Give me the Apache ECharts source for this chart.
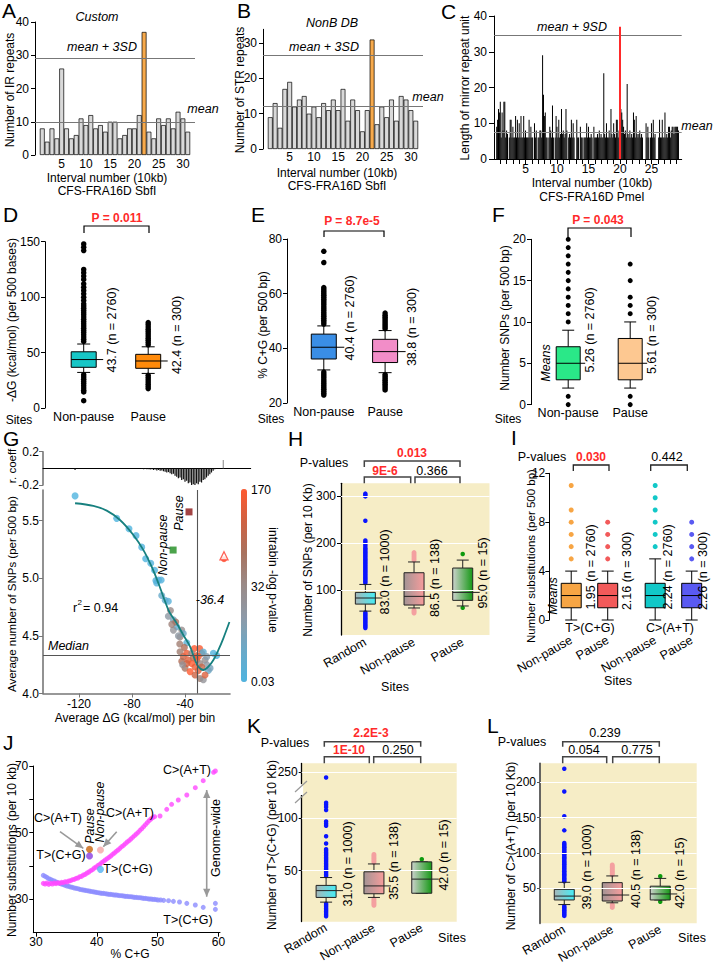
<!DOCTYPE html>
<html>
<head>
<meta charset="utf-8">
<script src="https://cdn.jsdelivr.net/npm/echarts@6/dist/echarts.min.js"></script>
<style>html,body{margin:0;padding:0;background:#fff;}#chart{width:713px;height:964px;}</style>
</head>
<body>
<div id="chart"></div>
<script>
// ===================== DATA =====================
// Panel A – IR repeats per 10 kb interval (CFS-FRA16D SbfI)
const aIR = [8,4,8,5,26,8,5,6,11,9,12,8,9,7,10,10,5,6,8,8,12,37,7,5,11,9,11,8,13,11,7];
const aHighlight = 22;
const aMean = 9.8, aMean3SD = 29;
// Panel B – STR repeats
const bSTR = [9,13,6,17,19,12,14,15,10,12,9,13,11,14,11,17,8,14,11,5,11,31,7,12,9,14,8,15,14,11,8];
const bHighlight = 22;
const bMean = 12.2, bMean3SD = 26.5;
// Panel C – mirror repeat unit lengths (7 bins per 10 kb interval)
const cBinsPerUnit = 7;
const cMirrorLen = [
 0,0,9,11,14,13,16,  6,13,8,16,16,6,8,  7,0,6,11,11,6,9,  6,6,12,6,11,6,10,
 6,12,6,6,12,6,8,    6,6,6,11,6,9,6,    6,0,10,6,8,0,6,   6,8,8,6,29,18,12,
 13,6,6,0,6,9,8,     6,15,6,0,6,12,9,   6,11,6,7,14,7,8,  6,7,14,8,0,6,7,
 6,11,6,10,6,0,0,    11,6,6,0,9,6,6,    0,6,6,6,10,6,9,   6,6,7,6,0,9,6,
 6,6,7,6,8,6,7,      6,6,24,7,6,10,6,   6,8,6,14,7,6,10,  7,6,11,11,6,8,14,
 14,13,11,9,7,8,6,   21,7,6,8,6,7,6,    13,11,6,12,7,6,7, 8,6,7,6,0,0,0,
 10,6,9,6,0,6,10,    6,11,6,7,0,0,0,    6,11,6,6,11,6,6,  13,6,7,6,9,9,6,
 8,9,9,7,9,9,9,      9,8];
const cHighlightPos = 19.9, cHighlightLen = 37;
const cMean = 7.5, cMean9SD = 34.7;
const cTicks = [1,2,3,4,5,6,7,8,9,10,11,12,13,14,15,16,17,18,19,20,21,22,23,24,25,26,27,28,29];
// D, E, F – site categories and box stats [min, Q1, median, Q3, max]
const siteCats = ['Non-pause', 'Pause'];
const dNonPauseBox = [32.1, 36.7, 43.7, 50.7, 57.7];
const dPauseBox = [31.2, 35.8, 42.4, 48.4, 55.2];
const dNonPauseOut = [60,62,64,66,68,70,72,74,76,78,80,82,84,86,88,90,92,94,97,100,103,106,109,112,116,119,122,125,142,145,148,30,28,26,24,22,20,18,16,14.5,6.6];
const dPauseOut = [57,59,61,63,65,67,69,71,73,75,77,29.5,27.5,25.5,23.5,21.5,19.5,17.5];
const eNonPauseBox = [32.1, 36.1, 40.4, 45.2, 48.2];
const ePauseBox = [31.1, 34.8, 38.8, 43.3, 46.5];
const eNonPauseOut = [48.9,49.6,50.3,51,51.7,52.4,53.1,53.8,54.5,55.2,55.9,56.6,57.3,58,58.7,59.4,60.1,60.8,61.5,62.2,71.4,75.5,31.3,30.6,29.9,29.2,28.5,27.8,27.1,26.4,25.7,25,24.3,23.6,22.9];
const ePauseOut = [47.2,47.9,48.6,49.3,50,50.7,51.4,52.1,52.9,30.4,29.7,29,28.3,27.6,26.9,26.2,25.5,24.8];
const fNonPauseBox = [2, 3, 5, 7, 9];
const fPauseBox = [2, 3, 5, 8, 10];
const fNonPauseOut = [10,11,12,13,14,15,16,17,18,19,20,1,0];
const fPauseOut = [11,12,13,15,17,1,0];
// G – r.coeff bars, binned scatter, fit, markers
const gRcoeffX = [-123,-72.5,-71.25,-70,-68.75,-67.5,-66.25,-65,-63.75,-62.5,-61.25,-60,-58.75,-57.5,-56.25,-55,-53.75,-52.5,-51.25,-50,-48.75,-47.5,-46.25,-45,-43.75,-42.5,-41.25,-40,-38.75,-37.5,-36.25,-35,-33.75,-32.5,-31.25,-30,-28.75,-27.5,-26.25,-25,-23.75,-22.5,-21.25,-20,-18.75,-17.5,-11.1];
const gRcoeffV = [-0.02,-0.005,-0.01,-0.008,-0.012,-0.01,-0.015,-0.012,-0.02,-0.015,-0.025,-0.02,-0.03,-0.025,-0.035,-0.04,-0.05,-0.045,-0.06,-0.07,-0.065,-0.09,-0.1,-0.12,-0.11,-0.14,-0.13,-0.16,-0.15,-0.18,-0.17,-0.21,-0.19,-0.2,-0.18,-0.19,-0.16,-0.17,-0.14,-0.13,-0.11,-0.09,-0.07,-0.05,-0.03,-0.01,0.1];
const gDG = [-123,-91.6,-82.3,-77,-72.7,-69.7,-65.9,-63,-62,-60,-58,-61.4,-57.6,-55,-52.6,
 -52.6,-48.8,-46.3,-42.5,-48.8,-43.8,-41.3,-38.7,
 -51,-50,-47,-45,-44,-40.5,-29,-33,
 -43.8,-41.3,-42.5,-38.7,-37.5,-35,-33.7,-31.2,-32.5,-30,-28.7,-27.4,-26.2,-24.9,-23.6,-22.4,-21.1,-18.6,-16.1,-40,-36.2,-32.5,-28.7,-26.2,-24.9,-35,-31.2,-27.4,-30,-23.6,-38.7,-41.8];
const gSNP = [5.715,5.52,5.43,5.37,5.27,5.17,5.13,5.07,4.98,4.985,4.985,4.96,4.85,4.81,4.8,
 4.67,4.64,4.58,4.55,4.55,4.49,4.52,4.44,
 4.72,4.6,4.62,4.5,4.43,4.4,4.39,4.39,
 4.363,4.32,4.28,4.35,4.29,4.26,4.31,4.29,4.23,4.2,4.26,4.35,4.36,4.29,4.25,4.2,4.22,4.35,4.33,4.22,4.19,4.16,4.13,4.12,4.16,4.35,4.33,4.23,4.32,4.32,4.26,4.25];
const gLogP = [1,1,1,2,2,1,3,2,5,8,4,6,25,20,10,
 60,40,15,80,70,90,30,10,
 85,95,110,60,100,120,165,170,
 100,140,120,160,150,170,130,165,160,150,90,120,20,80,60,30,40,5,3,110,170,140,100,70,150,90,155,135,160,50,145,75];
const gFitX = [-123,-109.2,-99.1,-89.1,-79,-71.5,-65.2,-60.1,-56.4,-52.6,-51.3,-46.3,-41.3,-36.2,-32.5,-30,-26.2,-22.4,-18.6,-14.8,-11.1,-6.5];
const gFitY = [5.651,5.628,5.587,5.506,5.376,5.246,5.10,4.957,4.84,4.725,4.696,4.609,4.508,4.406,4.291,4.233,4.204,4.233,4.291,4.378,4.479,4.62];
const gMedian = 4.326, gThresholdDG = -31;
const gNonPauseMean = [-49, 5.245], gPauseMean = [-37, 5.576];
const gOutTriangle = [-10.6, 5.195], gOutDot = [-10.6, 5.165];
// H – SNPs per 10 kb
const hCats = ['Random', 'Non-pause', 'Pause'];
const hRandomBox = [55, 70, 83, 95, 112];
const hNonPauseBox = [61.7, 68, 86.5, 137, 160];
const hPauseBox = [66, 78, 95, 147, 164];
const hRandomOut = [115,118,121,124,127,130,133,136,139,142,145,148,151,154,157,160,163,166,169,172,175,178,181,184,187,190,194,198,202,206,248,300,303,306,52,49,46,43,40,37,34,31,28,25,22,19];
const hNonPauseOut = [164,168,172,176,180,57,54,51];
const hPauseOut = [177,62];
// I – substitutions per 500 bp
const iCats = ['Non-pause', 'Pause', 'Non-pause', 'Pause'];
const iPos = [1, 2, 3.3, 4.3];
const iTCGNonPauseBox = [0,1,2,3,4], iTCGPauseBox = [0,1,2,3,4];
const iCATNonPauseBox = [0,1,2,3,5], iCATPauseBox = [0,1,2,3,4];
const iTCGNonPauseOut = [5,6,7,8,9,11], iTCGPauseOut = [5,6,7,8];
const iCATNonPauseOut = [6,7,8,9,10,11], iCATPauseOut = [5,6,7,8];
// J – substitutions vs %C+G
const jCATx = [31.2,31.5,31.8,32.1,32.4,32.7,33.0,33.3,33.6,33.9,34.2,34.5,34.8,35.1,35.4,35.7,36.0,36.3,36.6,36.9,37.2,37.5,37.8,38.1,38.4,38.7,39.0,39.3,39.6,39.9,40.2,40.5,40.8,41.1,41.4,41.7,42.0,42.3,42.6,42.9,43.2,43.5,43.8,44.1,44.4,44.7,45.0,45.3,45.6,45.9,46.2,46.5,46.8,47.1,47.4,47.7,48.0,48.3,48.6,48.9,49.2,49.5,50.4,51.5,52.3,53.4,54.8,56.2,57.5,59.2,59.5];
const jCATy = [34.8,34.6,34.9,34.5,34.8,34.6,34.9,34.7,35.0,34.8,35.1,35.0,35.3,35.2,35.5,35.6,35.9,36.0,36.3,36.4,36.8,36.9,37.3,37.5,37.9,38.2,38.6,38.9,39.4,39.7,40.2,40.5,41.0,41.4,41.8,42.2,42.6,43.0,43.5,43.9,44.4,44.8,45.3,45.8,46.2,46.7,47.2,47.6,48.1,48.6,49.1,49.6,50.1,50.7,51.2,51.8,52.4,53.0,53.6,54.1,54.5,54.8,55.0,57.0,58.5,59.8,61.3,63.5,65.6,68.1,68.5];
const jTCGx = [31.2,31.5,31.8,32.1,32.4,32.7,33.0,33.3,33.6,33.9,34.2,34.5,34.8,35.1,35.4,35.7,36.0,36.3,36.6,36.9,37.2,37.5,37.8,38.1,38.4,38.7,39.0,39.3,39.6,39.9,40.2,40.5,40.8,41.1,41.4,41.7,42.0,42.3,42.6,42.9,43.2,43.5,43.8,44.1,44.4,44.7,45.0,45.3,45.6,45.9,46.2,46.5,46.8,47.1,47.4,47.7,48.0,48.3,48.6,48.9,49.2,49.5,49.8,50.1,50.5,51.0,51.8,52.6,53.6,54.8,56.2,57.5,59.5,59.5];
const jTCGy = [37.2,36.9,36.6,36.2,36.0,35.7,35.5,35.2,35.0,34.8,34.6,34.4,34.2,34.0,33.9,33.7,33.6,33.4,33.3,33.2,33.0,32.9,32.8,32.7,32.6,32.5,32.4,32.3,32.2,32.1,32.0,31.9,31.8,31.8,31.7,31.6,31.5,31.5,31.4,31.3,31.3,31.2,31.1,31.1,31.0,30.9,30.9,30.8,30.8,30.7,30.6,30.6,30.5,30.5,30.4,30.3,30.3,30.2,30.1,30.1,30.0,30.0,29.9,29.8,29.8,29.7,29.6,29.4,29.2,28.8,28.3,27.6,28.8,27.0];
const jPauseCAT = [38.8, 45.0], jPauseTCG = [38.8, 43.0];
const jNonPauseCAT = [40.6, 44.8], jNonPauseTCG = [40.6, 39.0];
// K – T>(C+G) per 10 kb
const kRandomBox = [20, 24.5, 31, 36, 43.5];
const kNonPauseBox = [24.5, 28, 35.5, 49, 56.5];
const kPauseBox = [28.5, 28.5, 42, 58.5, 58.5];
const kRandomOut = [45,46.5,48,49.5,51,52.5,54,55.5,57,58.5,60,61.5,63,64.5,66,67.5,69,70.5,76,83,93,95,97,108,111,113,115,245,18.5,17,15.5,14,12.5,11,9.5,8,6.5];
const kNonPauseOut = [58,59.5,61,62.5,64,65.5,23,21.5,20,18.5,17];
const kPauseOut = [61];
// L – C>(A+T) per 10 kb
const lRandomBox = [27, 33.5, 39, 48.5, 58.5];
const lNonPauseBox = [29.5, 32, 40.5, 58, 67.5];
const lPauseBox = [33.5, 33.5, 42, 53, 64];
const lRandomOut = [60,62,64,66,68,70,72,74,76,78,80,82,84,86,88,90,92,94,96,98,100,102,104,106,108,110,112,114,132,152,187,219,25,23,21,19,17,15,13,11];
const lNonPauseOut = [69,71,73,75,77,79,81,83,27,25,23];
const lPauseOut = [67,31];

// ===================== BUILD =====================
const FONT = '"Liberation Sans", Arial, Helvetica, sans-serif';
const BEIGE = '#f6edc6';
const chart = echarts.init(document.getElementById('chart'), null, {renderer: 'svg'});
const option = {animation: false, backgroundColor: '#fff', textStyle: {fontFamily: FONT},
  grid: [], xAxis: [], yAxis: [], series: [], graphic: [], visualMap: []};

function isPlain(v) { return v && typeof v === 'object' && !Array.isArray(v) && Object.getPrototypeOf(v) === Object.prototype; }
function merge(a, b) {
  const o = Object.assign({}, a);
  for (const k in b) { o[k] = (isPlain(b[k]) && isPlain(a[k])) ? merge(a[k], b[k]) : b[k]; }
  return o;
}
const AX = {
  type: 'value',
  axisLine: {show: true, onZero: false, lineStyle: {color: '#000', width: 1}},
  axisTick: {show: true, length: 4, inside: false, lineStyle: {color: '#000', width: 1}},
  axisLabel: {show: true, color: '#000', fontSize: 12, fontFamily: FONT, margin: 5},
  splitLine: {show: false}, splitArea: {show: false}
};
function addGrid(l, t, w, h, xo, yo, gx) {
  const gi = option.grid.length;
  option.grid.push(Object.assign({left: l, top: t, width: w, height: h, containLabel: false, outerBoundsMode: 'none'}, gx || {}));
  option.xAxis.push(merge(merge(AX, {gridIndex: gi}), xo || {}));
  option.yAxis.push(merge(merge(AX, {gridIndex: gi}), yo || {}));
  return gi;
}
function hLines(vals, color, width) {
  return {silent: true, symbol: 'none', label: {show: false}, lineStyle: {color: color || '#777', type: 'solid', width: width || 1.2},
    data: vals.map(v => ({yAxis: v}))};
}
function boxSeries(gi, items, fills, o) {
  option.series.push({
    type: 'custom', xAxisIndex: gi, yAxisIndex: gi, silent: true, z: 4,
    data: items,
    renderItem(params, api) {
      const x = api.value(0);
      const p = k => api.coord([x, api.value(k)]);
      const lo = p(1), q1 = p(2), md = p(3), q3 = p(4), hi = p(5);
      const cx = lo[0], hw = o.w / 2, cw = (o.cap || o.w * 0.6) / 2;
      const st = {stroke: o.stroke || '#000', lineWidth: o.lw || 1};
      return {type: 'group', children: [
        {type: 'line', shape: {x1: cx, y1: lo[1], x2: cx, y2: q1[1]}, style: st},
        {type: 'line', shape: {x1: cx, y1: q3[1], x2: cx, y2: hi[1]}, style: st},
        {type: 'line', shape: {x1: cx - cw, y1: lo[1], x2: cx + cw, y2: lo[1]}, style: st},
        {type: 'line', shape: {x1: cx - cw, y1: hi[1], x2: cx + cw, y2: hi[1]}, style: st},
        {type: 'rect', shape: {x: cx - hw, y: q3[1], width: o.w, height: q1[1] - q3[1]},
          style: {fill: fills[params.dataIndex], stroke: st.stroke, lineWidth: st.lineWidth}},
        {type: 'line', shape: {x1: cx - hw, y1: md[1], x2: cx + hw + (o.ext || 0), y2: md[1]}, style: st}
      ]};
    }
  });
}
function dots(gi, x, vals, color, size, z) {
  option.series.push({type: 'scatter', xAxisIndex: gi, yAxisIndex: gi, silent: true, z: z || 3,
    symbolSize: size, itemStyle: {color: color, opacity: 1}, data: vals.map(v => [x, v])});
}
function grad(c0, c1) { return new echarts.graphic.LinearGradient(0, 0, 1, 0, [{offset: 0, color: c0}, {offset: 1, color: c1}]); }

const G = option.graphic;
function T(x, y, text, o) {
  o = o || {};
  G.push({type: 'text', x: x, y: y, rotation: (o.rot || 0) * Math.PI / 180, silent: true, z: 10,
    style: {text: text, fill: o.color || '#000', fontSize: o.size || 12.5, fontFamily: FONT,
      fontStyle: o.italic ? 'italic' : 'normal', fontWeight: o.bold ? 'bold' : 'normal',
      align: o.align || 'center', textAlign: o.align || 'center', verticalAlign: 'middle', textVerticalAlign: 'middle'}});
}
function L(x1, y1, x2, y2, color, lw) {
  G.push({type: 'line', silent: true, z: 9, shape: {x1, y1, x2, y2}, style: {stroke: color || '#000', lineWidth: lw || 1}});
}
function bracket(x1, x2, yt, yb, color, lw) {
  G.push({type: 'polyline', silent: true, z: 9, shape: {points: [[x1, yb], [x1, yt], [x2, yt], [x2, yb]]},
    style: {stroke: color || '#000', lineWidth: lw || 1.2, fill: 'none'}});
}
function arrowHead(x1, y1, x2, y2, color) {
  const a = Math.atan2(y2 - y1, x2 - x1), len = 8, hw = 3.6;
  const bx = x2 - len * Math.cos(a), by = y2 - len * Math.sin(a);
  G.push({type: 'polygon', silent: true, z: 9, shape: {points: [[x2, y2],
    [bx + hw * Math.sin(a), by - hw * Math.cos(a)], [bx - hw * Math.sin(a), by + hw * Math.cos(a)]]}, style: {fill: color}});
}
function arrow(x1, y1, x2, y2, color, both) {
  L(x1, y1, x2, y2, color, 1.6);
  arrowHead(x1, y1, x2, y2, color);
  if (both) arrowHead(x2, y2, x1, y1, color);
}

// ---------- Panel A ----------
const aCats = ['', ...aIR.map((_, i) => String(i + 1)), ''];
const gA = addGrid(35, 22, 160, 133,
  {type: 'category', data: aCats, boundaryGap: true, axisLine: {show: false}, axisTick: {show: false},
    axisLabel: {margin: 3, interval: (i, v) => v !== '' && (+v) % 5 === 0}},
  {min: 0, max: 40, interval: 10, axisLabel: {margin: 6}});
option.series.push({type: 'bar', xAxisIndex: gA, yAxisIndex: gA, silent: true, barCategoryGap: '0%',
  itemStyle: {borderColor: '#000', borderWidth: 0.7},
  data: aCats.map((c, i) => c === '' ? '-' : {value: aIR[i - 1], itemStyle: {color: i === aHighlight ? '#f7aa4c' : '#d9d9d9'}}),
  markLine: hLines([aMean, aMean3SD])});

// ---------- Panel B ----------
const bCats = ['', ...bSTR.map((_, i) => String(i + 1)), ''];
const gB = addGrid(263, 29.3, 160, 119.7,
  {type: 'category', data: bCats, boundaryGap: true, axisLine: {show: false}, axisTick: {show: false},
    axisLabel: {margin: 2, interval: (i, v) => v !== '' && (+v) % 5 === 0}},
  {min: 0, max: 33.9, axisLabel: {customValues: [0, 10, 20, 30], margin: 6}, axisTick: {customValues: [0, 10, 20, 30]}});
option.series.push({type: 'bar', xAxisIndex: gB, yAxisIndex: gB, silent: true, barCategoryGap: '0%',
  itemStyle: {borderColor: '#000', borderWidth: 0.7},
  data: bCats.map((c, i) => c === '' ? '-' : {value: bSTR[i - 1], itemStyle: {color: i === bHighlight ? '#f7aa4c' : '#d9d9d9'}}),
  markLine: hLines([bMean, bMean3SD])});

// ---------- Panel C ----------
const gC = addGrid(494, 16, 187.7, 143,
  {min: 0, max: 29.8, axisTick: {customValues: cTicks, length: 5}, axisLabel: {customValues: [5, 10, 15, 20, 25], margin: 4}},
  {min: 0, max: 40, interval: 10, axisTick: {length: 5}, axisLabel: {margin: 7}});
option.series.push({type: 'bar', xAxisIndex: gC, yAxisIndex: gC, silent: true, barWidth: 1, itemStyle: {color: '#000'},
  data: cMirrorLen.map((v, i) => [(i + 1) / cBinsPerUnit, v]).filter(d => d[1] > 0),
  markLine: {silent: true, symbol: 'none', label: {show: false},
    data: [{yAxis: cMean, lineStyle: {color: '#888', width: 1.2, type: 'solid'}},
           {yAxis: cMean9SD, lineStyle: {color: '#777', width: 1.2, type: 'solid'}},
           [{coord: [cHighlightPos, 0], lineStyle: {color: '#ff2a2a', width: 2, type: 'solid'}}, {coord: [cHighlightPos, cHighlightLen]}]]}});

// ---------- Panel D ----------
const siteX = {axisLine: {show: false}, axisTick: {show: false},
  axisLabel: {customValues: [1, 2], formatter: v => siteCats[Math.round(v) - 1], margin: 2, fontSize: 12.5}};
const gD = addGrid(45, 241.7, 141.9, 166.3, merge(siteX, {min: 0.4, max: 2.6}), {min: 0, max: 150, interval: 50});
dots(gD, 1, dNonPauseOut, '#000', 5.5); dots(gD, 2, dPauseOut, '#000', 5.5);
boxSeries(gD, [[1, ...dNonPauseBox], [2, ...dPauseBox]], ['#17c6c6', '#ff8a0a'], {w: 25, cap: 13, ext: 7});

// ---------- Panel E ----------
const gE = addGrid(287, 239, 134.9, 164, merge(siteX, {min: 0.4, max: 2.6}),
  {min: 20, max: 80, interval: 20});
dots(gE, 1, eNonPauseOut, '#000', 5.5); dots(gE, 2, ePauseOut, '#000', 5.5);
boxSeries(gE, [[1, ...eNonPauseBox], [2, ...ePauseBox]], ['#3a8ee6', '#f28dc8'], {w: 25, cap: 13, ext: 8});

// ---------- Panel F ----------
const gF = addGrid(531, 239.3, 136.4, 165.3, merge(siteX, {min: 0.4, max: 2.6}),
  {min: 0, max: 20, interval: 5});
dots(gF, 1, fNonPauseOut, '#000', 5); dots(gF, 2, fPauseOut, '#000', 5);
boxSeries(gF, [[1, ...fNonPauseBox], [2, ...fPauseBox]], ['#2ae888', '#fdc891'], {w: 24, cap: 12, ext: 5});

// ---------- Panel G ----------
const GAX = {color: '#777', width: 1.6};
const gR = addGrid(43, 451.7, 207.7, 33.3,
  {min: -147.2, max: 9.6, axisLine: {onZero: true, lineStyle: {color: '#000', width: 1}}, axisTick: {show: false}, axisLabel: {show: false}},
  {min: -0.2, max: 0.2, axisLine: {lineStyle: GAX}, axisTick: {customValues: [-0.2, 0.2], lineStyle: {color: '#777'}},
    axisLabel: {customValues: [-0.2, 0.2], margin: 4}});
option.series.push({type: 'bar', xAxisIndex: gR, yAxisIndex: gR, silent: true, barWidth: 1.2,
  data: gRcoeffX.map((x, i) => ({value: [x, gRcoeffV[i]], itemStyle: {color: gRcoeffV[i] > 0 ? '#999' : '#111'}}))});
const gG = addGrid(43, 490, 187, 203.5,
  {min: -147.2, max: -6.07, axisLine: {lineStyle: GAX}, axisTick: {customValues: [-120, -80, -40], lineStyle: {color: '#777'}},
    axisLabel: {customValues: [-120, -80, -40], margin: 4}},
  {min: 4, max: 5.766, axisLine: {lineStyle: GAX}, axisTick: {customValues: [4, 4.5, 5, 5.5], lineStyle: {color: '#777'}},
    axisLabel: {customValues: [4, 4.5, 5, 5.5], formatter: v => v.toFixed(1), margin: 4}});
const gScatterIdx = option.series.length;
option.series.push({type: 'scatter', xAxisIndex: gG, yAxisIndex: gG, silent: true, symbolSize: 7, z: 3,
  data: gDG.map((x, i) => [x, gSNP[i], gLogP[i]])});
option.series.push({type: 'line', xAxisIndex: gG, yAxisIndex: gG, silent: true, symbol: 'none', smooth: 0.35, z: 4,
  lineStyle: {color: '#17807f', width: 1.8}, data: gFitX.map((x, i) => [x, gFitY[i]]),
  markLine: {silent: true, symbol: 'none', label: {show: false}, lineStyle: {color: '#555', width: 1.1, type: 'solid'},
    data: [{yAxis: gMedian}, {xAxis: gThresholdDG}]}});
option.series.push({type: 'scatter', xAxisIndex: gG, yAxisIndex: gG, silent: true, symbol: 'rect', symbolSize: 7, z: 5,
  data: [{value: gNonPauseMean, itemStyle: {color: '#1e8c1e'}}, {value: gPauseMean, itemStyle: {color: '#8b1414'}}]});
option.series.push({type: 'scatter', xAxisIndex: gG, yAxisIndex: gG, silent: true, symbolSize: 6, z: 5,
  data: [{value: gOutDot, itemStyle: {color: '#ff4a2a'}}]});
option.series.push({type: 'scatter', xAxisIndex: gG, yAxisIndex: gG, silent: true, symbol: 'triangle', symbolSize: 8, z: 6,
  data: [{value: gOutTriangle, itemStyle: {color: '#fff', borderColor: '#ff3a2a', borderWidth: 1.3}}]});
option.visualMap.push({type: 'continuous', seriesIndex: gScatterIdx, dimension: 2, min: 0.03, max: 170,
  show: true, calculable: false, hoverLink: false, orient: 'vertical', left: 241, top: 489, itemWidth: 6, itemHeight: 193, padding: 0,
  inRange: {color: ['#4fb4e0', '#6aa9c8', '#8d9aa8', '#9a8b88', '#a8725f', '#cf6242', '#ff5a30']}});

// ---------- Panel H ----------
const rotX = (cats, pos, margin) => ({axisLine: {show: false}, axisTick: {show: false},
  axisLabel: {customValues: pos, rotate: 30, margin: margin, fontSize: 12.5,
    formatter: v => { let k = 0; pos.forEach((p, i) => { if (Math.abs(p - v) < 1e-6) k = i; }); return cats[k]; }}});
const beigeGrid = {show: true, backgroundColor: BEIGE, borderWidth: 0};
const gH = addGrid(341, 483.3, 148.5, 151.7, merge(rotX(hCats, [1, 2, 3], 6), {min: 0.5, max: 3.55}),
  {min: 4, max: 328, axisLine: {lineStyle: {width: 1.3}}, axisLabel: {customValues: [100, 200, 300], margin: 5}, axisTick: {customValues: [100, 200, 300]}},
  beigeGrid);
option.series.push({type: 'line', xAxisIndex: gH, yAxisIndex: gH, silent: true, data: [], markLine: hLines([100, 200, 300], '#fff', 1.2)});
dots(gH, 1, hRandomOut, '#0a14ff', 4.5); dots(gH, 2, hNonPauseOut, '#f4a0a0', 5); dots(gH, 3, hPauseOut, '#0e9a0e', 4.5);
const fillRandom = grad('#a7b6b8', '#45eef6'), fillNon = grad('#a39494', '#f79c9c'), fillPause = grad('#ccd2cc', '#169816');
boxSeries(gH, [[1, ...hRandomBox], [2, ...hNonPauseBox], [3, ...hPauseBox]], [fillRandom, fillNon, fillPause],
  {w: 20, cap: 12, ext: 7, stroke: '#222'});

// ---------- Panel I ----------
const gI = addGrid(549.3, 473.3, 157, 146.7, merge(rotX(iCats, iPos, 19), {min: 0.4, max: 4.7}),
  {min: 0, max: 12, interval: 4, axisLabel: {margin: 4}});
dots(gI, iPos[0], iTCGNonPauseOut, '#f7a544', 5); dots(gI, iPos[1], iTCGPauseOut, '#f25a5a', 5);
dots(gI, iPos[2], iCATNonPauseOut, '#12c8c8', 5); dots(gI, iPos[3], iCATPauseOut, '#5a5af2', 5);
boxSeries(gI, [[iPos[0], ...iTCGNonPauseBox], [iPos[1], ...iTCGPauseBox], [iPos[2], ...iCATNonPauseBox], [iPos[3], ...iCATPauseBox]],
  ['#f7a544', '#f25a5a', '#12c8c8', '#5a5af2'], {w: 20, cap: 12, ext: 0});

// ---------- Panel J ----------
const gJ = addGrid(33.3, 766, 186.7, 166.7,
  {min: 29.56, max: 60.26, axisLabel: {customValues: [30, 40, 50, 60], margin: 3}, axisTick: {customValues: [30, 40, 50, 60]}},
  {min: 20, max: 70, axisLabel: {customValues: [30, 50, 70], margin: 5}, axisTick: {customValues: [30, 40, 50, 60, 70]}});
option.series.push({type: 'scatter', xAxisIndex: gJ, yAxisIndex: gJ, silent: true, symbolSize: 5, z: 3,
  itemStyle: {color: '#8c8cff'}, data: jTCGx.map((x, i) => [x, jTCGy[i]])});
option.series.push({type: 'scatter', xAxisIndex: gJ, yAxisIndex: gJ, silent: true, symbolSize: 5, z: 3,
  itemStyle: {color: '#ff48ff'}, data: jCATx.map((x, i) => [x, jCATy[i]])});
option.series.push({type: 'scatter', xAxisIndex: gJ, yAxisIndex: gJ, silent: true, symbolSize: 7, z: 4,
  data: [{value: jPauseCAT, itemStyle: {color: '#c8640c'}}, {value: jPauseTCG, itemStyle: {color: '#8a3ce0'}},
         {value: jNonPauseCAT, itemStyle: {color: '#f5a5a5'}}, {value: jNonPauseTCG, itemStyle: {color: '#52b2f2'}}]});

// ---------- Panel K ----------
const gK = addGrid(301.7, 763.3, 155, 158.4, merge(rotX(hCats, [1, 2, 3], 5), {min: 0.49, max: 3.73}),
  {min: 1.3, max: 258.6, breaks: [{start: 125, end: 240, gap: '6%'}], breakArea: {show: false},
    axisLine: {lineStyle: {width: 1.3}}, axisLabel: {customValues: [50, 100, 250], margin: 4}, axisTick: {customValues: [50, 100, 250], length: 3}},
  beigeGrid);
option.series.push({type: 'line', xAxisIndex: gK, yAxisIndex: gK, silent: true, data: [], markLine: hLines([50, 100, 250], '#fff', 1.2)});
dots(gK, 1, kRandomOut, '#0a14ff', 4.5); dots(gK, 2, kNonPauseOut, '#f4a0a0', 5); dots(gK, 3, kPauseOut, '#0e9a0e', 4.5);
boxSeries(gK, [[1, ...kRandomBox], [2, ...kNonPauseBox], [3, ...kPauseBox]], [fillRandom, fillNon, fillPause],
  {w: 20, cap: 12, ext: 7, stroke: '#222'});

// ---------- Panel L ----------
const gL = addGrid(540, 763.3, 156.7, 160, merge(rotX(hCats, [1, 2, 3], 5), {min: 0.494, max: 3.76}),
  {min: 0.5, max: 226.8, axisLine: {lineStyle: {color: '#555', width: 1.8}}, axisLabel: {customValues: [50, 100, 150, 200], margin: 4},
    axisTick: {customValues: [50, 100, 150, 200], length: 3, lineStyle: {color: '#555'}}},
  beigeGrid);
option.series.push({type: 'line', xAxisIndex: gL, yAxisIndex: gL, silent: true, data: [], markLine: hLines([50, 100, 150, 200], '#fff', 1.2)});
dots(gL, 1, lRandomOut, '#0a14ff', 4.5); dots(gL, 2, lNonPauseOut, '#f4a0a0', 5); dots(gL, 3, lPauseOut, '#0e9a0e', 4.5);
boxSeries(gL, [[1, ...lRandomBox], [2, ...lNonPauseBox], [3, ...lPauseBox]], [fillRandom, fillNon, fillPause],
  {w: 20, cap: 12, ext: 7, stroke: '#222'});

// ===================== TEXT & ANNOTATIONS =====================
const RED = '#ff2a2a';
// letters
[['A', 2, 10], ['B', 237, 10], ['C', 441, 11], ['D', 3, 214], ['E', 251, 214], ['F', 492, 214],
 ['G', 3, 438], ['H', 288, 438], ['I', 511, 437], ['J', 3, 742], ['K', 247, 725], ['L', 487, 725]]
  .forEach(([t, x, y]) => T(x, y, t, {size: 21, align: 'left'}));
// A
T(97, 17, 'Custom', {italic: true}); T(102, 47, 'mean + 3SD', {italic: true}); T(203, 109, 'mean', {italic: true});
T(107, 178, 'Interval number (10kb)', {size: 12}); T(107, 191, 'CFS-FRA16D SbfI', {size: 12}); T(10, 90, 'Number of IR repeats', {rot: 90, size: 12});
// B
T(332, 23, 'NonB DB', {italic: true}); T(324, 47, 'mean + 3SD', {italic: true}); T(428, 97, 'mean', {italic: true});
T(337, 173, 'Interval number (10kb)', {size: 12}); T(337, 186, 'CFS-FRA16D SbfI', {size: 12}); T(240, 90, 'Number of STR repeats', {rot: 90, size: 12});
// C
T(572, 27, 'mean + 9SD', {italic: true}); T(697, 126, 'mean', {italic: true});
T(592, 183, 'Interval number (10kb)', {size: 12}); T(592, 197, 'CFS-FRA16D PmeI', {size: 12}); T(465, 88, 'Length of mirror repeat unit', {rot: 90, size: 12});
// D
T(117, 218, 'P = 0.011', {color: RED, bold: true, size: 12}); bracket(84, 149, 226, 233);
T(12, 320, '-ΔG (kcal/mol) (per 500 bases)', {rot: 90, size: 12});
T(112, 330, '43.7 (n = 2760)', {rot: 90}); T(177, 335, '42.4 (n = 300)', {rot: 90});
T(19, 420, 'Sites', {size: 12});
// E
T(352, 221, 'P = 8.7e-5', {color: RED, bold: true, size: 12}); bracket(324, 384, 231, 237);
T(263, 325, '% C+G (per 500 bp)', {rot: 90, size: 12});
T(350, 318, '40.4 (n = 2760)', {rot: 90}); T(412, 327, '38.8 (n = 300)', {rot: 90});
T(271, 419, 'Sites', {size: 12});
// F
T(598, 220, 'P = 0.043', {color: RED, bold: true, size: 12}); bracket(568, 631, 228, 237);
T(505, 318, 'Number SNPs (per 500 bp)', {rot: 90, size: 12});
T(590, 330, '5.26 (n = 2760)', {rot: 90}); T(652, 335, '5.61 (n = 300)', {rot: 90});
T(546, 363, 'Means', {rot: 90, italic: true});
T(508, 419, 'Sites', {size: 12});
// G
T(12, 466, 'r. coeff', {rot: 90, size: 11.5}); T(12, 594, 'Average number of SNPs (per 500 bp)', {rot: 90, size: 11.5});
T(48, 646, 'Median', {italic: true, align: 'left'});
T(73, 608, 'r', {align: 'left'}); T(77.5, 602, '2', {align: 'left', size: 8}); T(83, 608, '= 0.94', {align: 'left'});
T(210, 600, '-36.4', {italic: true});
T(163, 545, 'Non-pause', {rot: 90, italic: true}); T(179, 513, 'Pause', {rot: 90, italic: true});
T(251, 490, '170', {align: 'left', size: 12}); T(251, 587, '32', {align: 'left', size: 12}); T(251, 682, '0.03', {align: 'left', size: 12});
T(273, 580, 'intrabin -log p-value', {rot: -90, size: 12});
T(135, 718, 'Average ΔG (kcal/mol) per bin', {size: 12});
// H
T(324, 463, 'P-values'); T(412, 453, '0.013', {color: RED, bold: true, size: 12});
T(385, 471, '9E-6', {color: RED, bold: true, size: 12}); T(432, 471, '0.366');
bracket(364.3, 460, 461, 467, '#444', 1.5); bracket(364.3, 410.7, 477, 483.3, '#444', 1.5); bracket(415, 460, 477, 483.3, '#444', 1.5);
T(308, 560, 'Number of SNPs (per 10 Kb)', {rot: 90, size: 12});
T(385, 572, '83.0 (n = 1000)', {rot: 90}); T(435, 578, '86.5 (n = 138)', {rot: 90}); T(483, 573, '95.0 (n = 15)', {rot: 90});
T(395, 687, 'Sites');
// I
T(542, 457, 'P-values'); T(591, 457, '0.030', {color: RED, bold: true, size: 12}); T(667, 457, '0.442');
bracket(573.3, 609, 465, 471, '#222', 1.3); bracket(650.7, 687.3, 465, 471, '#222', 1.3);
T(531, 556, 'Number substitutions (per 500 bp)', {rot: 90, size: 11.5});
T(553, 596, 'Means', {rot: 90, italic: true});
T(591, 567, '1.95 (n = 2760)', {rot: 90}); T(627, 571, '2.16 (n = 300)', {rot: 90});
T(668, 567, '2.24 (n = 2760)', {rot: 90}); T(703, 571, '2.26 (n = 300)', {rot: 90});
T(590, 628, 'T>(C+G)'); T(670, 628, 'C>(A+T)');
T(618, 681, 'Sites');
// J
T(12, 850, 'Number substitutions (per 10 kb)', {rot: 90, size: 12}); T(130, 954, '% C+G', {size: 12});
T(58, 818, 'C>(A+T)'); T(61, 855, 'T>(C+G)'); T(89.5, 826, 'Pause', {rot: 90, italic: true}); T(99.5, 812, 'Non-pause', {rot: 90, italic: true});
T(130, 813, 'C>(A+T)'); T(128, 869, 'T>(C+G)'); T(187, 770, 'C>(A+T)'); T(188, 920, 'T>(C+G)');
T(216, 838, 'Genome-wide', {rot: 90});
arrow(60, 831.7, 83.3, 848.3, '#999'); arrow(116.7, 831.7, 103.3, 846.7, '#999'); arrow(206.7, 790, 206.7, 896.7, '#999', true);
// K
T(285, 743, 'P-values'); T(371, 733, '2.2E-3', {color: RED, bold: true, size: 12});
T(349, 750, '1E-10', {color: RED, bold: true, size: 12}); T(398, 750, '0.250');
bracket(324.3, 420.7, 741.7, 746.7, '#444', 1.5); bracket(324.3, 369.3, 756.7, 763.3, '#444', 1.5); bracket(373.7, 420.7, 756.7, 763.3, '#444', 1.5);
T(272, 845, 'Number of T>(C+G) (per 10 Kb)', {rot: 90, size: 12});
T(348, 864, '31.0 (n = 1000)', {rot: 90}); T(394, 861, '35.5 (n = 138)', {rot: 90}); T(444, 855, '42.0 (n = 15)', {rot: 90});
G.push({type: 'rect', silent: true, z: 8, shape: {x: 299.5, y: 786, width: 3.6, height: 9}, style: {fill: '#fff'}});
L(295, 792, 307, 781, '#999', 1.2); L(295, 803, 307, 792, '#999', 1.2);
T(452, 938, 'Sites');
// L
T(522, 742, 'P-values'); T(605, 733, '0.239'); T(584, 750, '0.054'); T(637, 750, '0.775');
bracket(562.7, 659.3, 741.7, 746.7, '#444', 1.5); bracket(562.7, 606.7, 756.7, 763.3, '#444', 1.5); bracket(612.7, 659.3, 756.7, 763.3, '#444', 1.5);
T(511, 846, 'Number of C>(A+T) (per 10 Kb)', {rot: 90, size: 12});
T(587, 867, '39.0 (n = 1000)', {rot: 90}); T(636, 869, '40.5 (n = 138)', {rot: 90}); T(680, 873, '42.0 (n = 15)', {rot: 90});
T(692, 938, 'Sites');

chart.setOption(option);
</script>
</body>
</html>
